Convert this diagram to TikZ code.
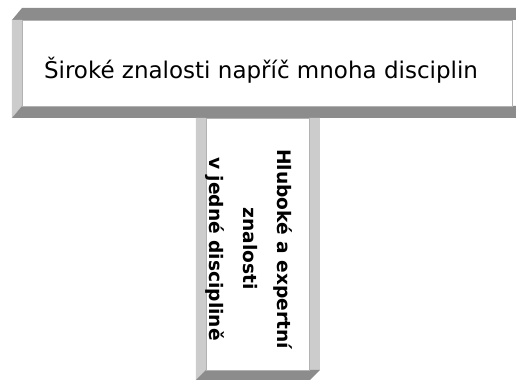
\documentclass[tikz,border=0pt]{standalone}
\usepackage{fontspec}
\setmainfont{DejaVu Sans}
\definecolor{bandDark}{gray}{0.55}
\definecolor{bandLight}{gray}{0.80}

\begin{document}
\begin{tikzpicture}[x=0.5pt, y=-0.5pt,
    topface/.style={fill=bandDark},
    sideface/.style={fill=bandLight},
    frontface/.style={fill=white, draw=gray!60, line width=0.3pt}]
    \useasboundingbox (0,0) rectangle (516,383);

    % Broad bar
    \fill [topface] (12,20) -- (22,8) -- (516,8) -- (516,20) -- cycle;
    \fill [sideface] (12,20) -- (22,20) -- (22,106) -- (12,118) -- cycle;
    \fill [topface] (12,118) -- (22,106) -- (516,106) -- (516,118) -- cycle;
    \draw [frontface] (22,20) rectangle (512,106);

    % Deep bar
    \fill [sideface] (196,118) -- (206,118) -- (206,370) -- (196,380) -- cycle;
    \fill [sideface] (309,118) -- (320,118) -- (320,370) -- (310,380) -- (309,380) -- cycle;
    \fill [topface] (196,380) -- (206,370) -- (320,370) -- (310,380) -- cycle;
    \draw [frontface] (206,118) rectangle (309,370);

    % Nodes
    \node [font=\fontsize{11.5}{14}\selectfont, anchor=base] (broad) at (261,79) {Široké znalosti napříč mnoha disciplin};
    \node [font=\fontsize{9.3}{17}\selectfont\bfseries, align=center, rotate=-90] (deep) at (249,249) {Hluboké a expertní\\znalosti\\v jedné disciplině};
\end{tikzpicture}
\end{document}
